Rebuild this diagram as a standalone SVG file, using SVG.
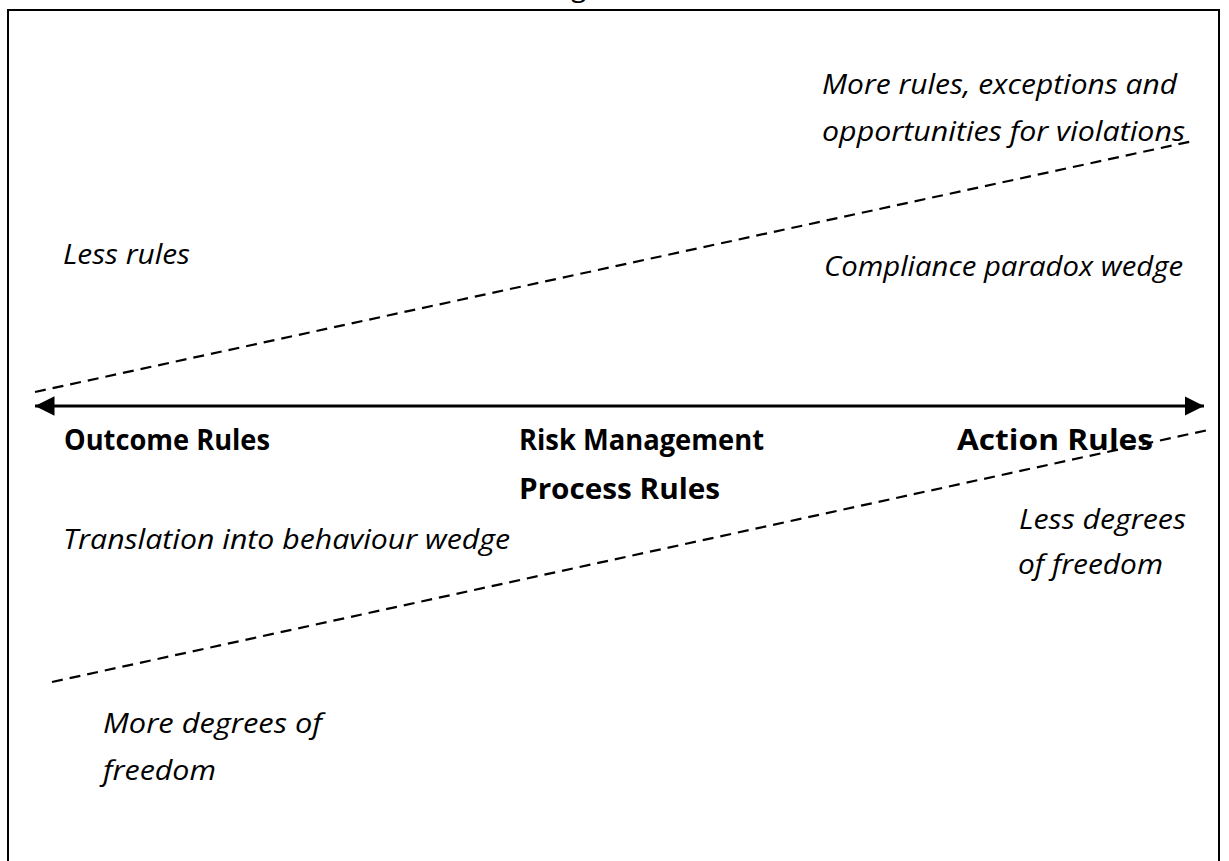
<svg xmlns="http://www.w3.org/2000/svg" width="1229" height="861" viewBox="0 0 1229 861">
<style>
text{font-family:"Open Sans","Liberation Sans",sans-serif;font-size:28px;fill:#000}
.i{font-style:italic}
.b{font-weight:bold}
.dash{stroke:#000;stroke-width:2.2;stroke-dasharray:11 7;fill:none}
</style>
<defs>
<marker id="ah" viewBox="0 0 10 10" refX="10" refY="5" markerWidth="6.5" markerHeight="6.5" orient="auto-start-reverse" markerUnits="strokeWidth">
<path d="M0,0 L10,5 L0,10 z" fill="#000"/>
</marker>
</defs>
<rect x="0" y="0" width="1229" height="861" fill="#fff"/>
<rect id="frame" x="8" y="10" width="1211" height="900" fill="none" stroke="#000" stroke-width="2"/>
<text x="571" y="-4">g</text>
<g id="connectors">
<line x1="35" y1="406" x2="1204" y2="406" stroke="#000" stroke-width="3" marker-start="url(#ah)" marker-end="url(#ah)"/>
<line class="dash" x1="35" y1="392" x2="1193" y2="141"/>
<line class="dash" x1="52" y1="682" x2="1208" y2="430"/>
</g>
<g id="top-right"><text class="i" x="822" y="94" textLength="355" lengthAdjust="spacingAndGlyphs">More rules, exceptions and</text>
<text class="i" x="822" y="141" textLength="363" lengthAdjust="spacingAndGlyphs">opportunities for violations</text></g>
<g id="less-rules"><text class="i" x="63" y="264" textLength="127" lengthAdjust="spacingAndGlyphs">Less rules</text></g>
<g id="compliance"><text class="i" x="824" y="276" textLength="359" lengthAdjust="spacingAndGlyphs">Compliance paradox wedge</text></g>
<g id="outcome"><text class="b" x="64" y="450" textLength="206" lengthAdjust="spacingAndGlyphs">Outcome Rules</text></g>
<g id="risk"><text class="b" x="519" y="450" textLength="245" lengthAdjust="spacingAndGlyphs">Risk Management</text>
<text class="b" x="519" y="499" textLength="201" lengthAdjust="spacingAndGlyphs">Process Rules</text></g>
<g id="action"><text class="b" x="957" y="450" textLength="196" lengthAdjust="spacingAndGlyphs">Action Rules</text></g>
<g id="translation"><text class="i" x="63" y="549" textLength="447" lengthAdjust="spacingAndGlyphs">Translation into behaviour wedge</text></g>
<g id="less-degrees"><text class="i" x="1019" y="529" textLength="167" lengthAdjust="spacingAndGlyphs">Less degrees</text>
<text class="i" x="1018" y="574" textLength="145" lengthAdjust="spacingAndGlyphs">of freedom</text></g>
<g id="more-degrees"><text class="i" x="103" y="733" textLength="219" lengthAdjust="spacingAndGlyphs">More degrees of</text>
<text class="i" x="103" y="780" textLength="113" lengthAdjust="spacingAndGlyphs">freedom</text></g>
</svg>
